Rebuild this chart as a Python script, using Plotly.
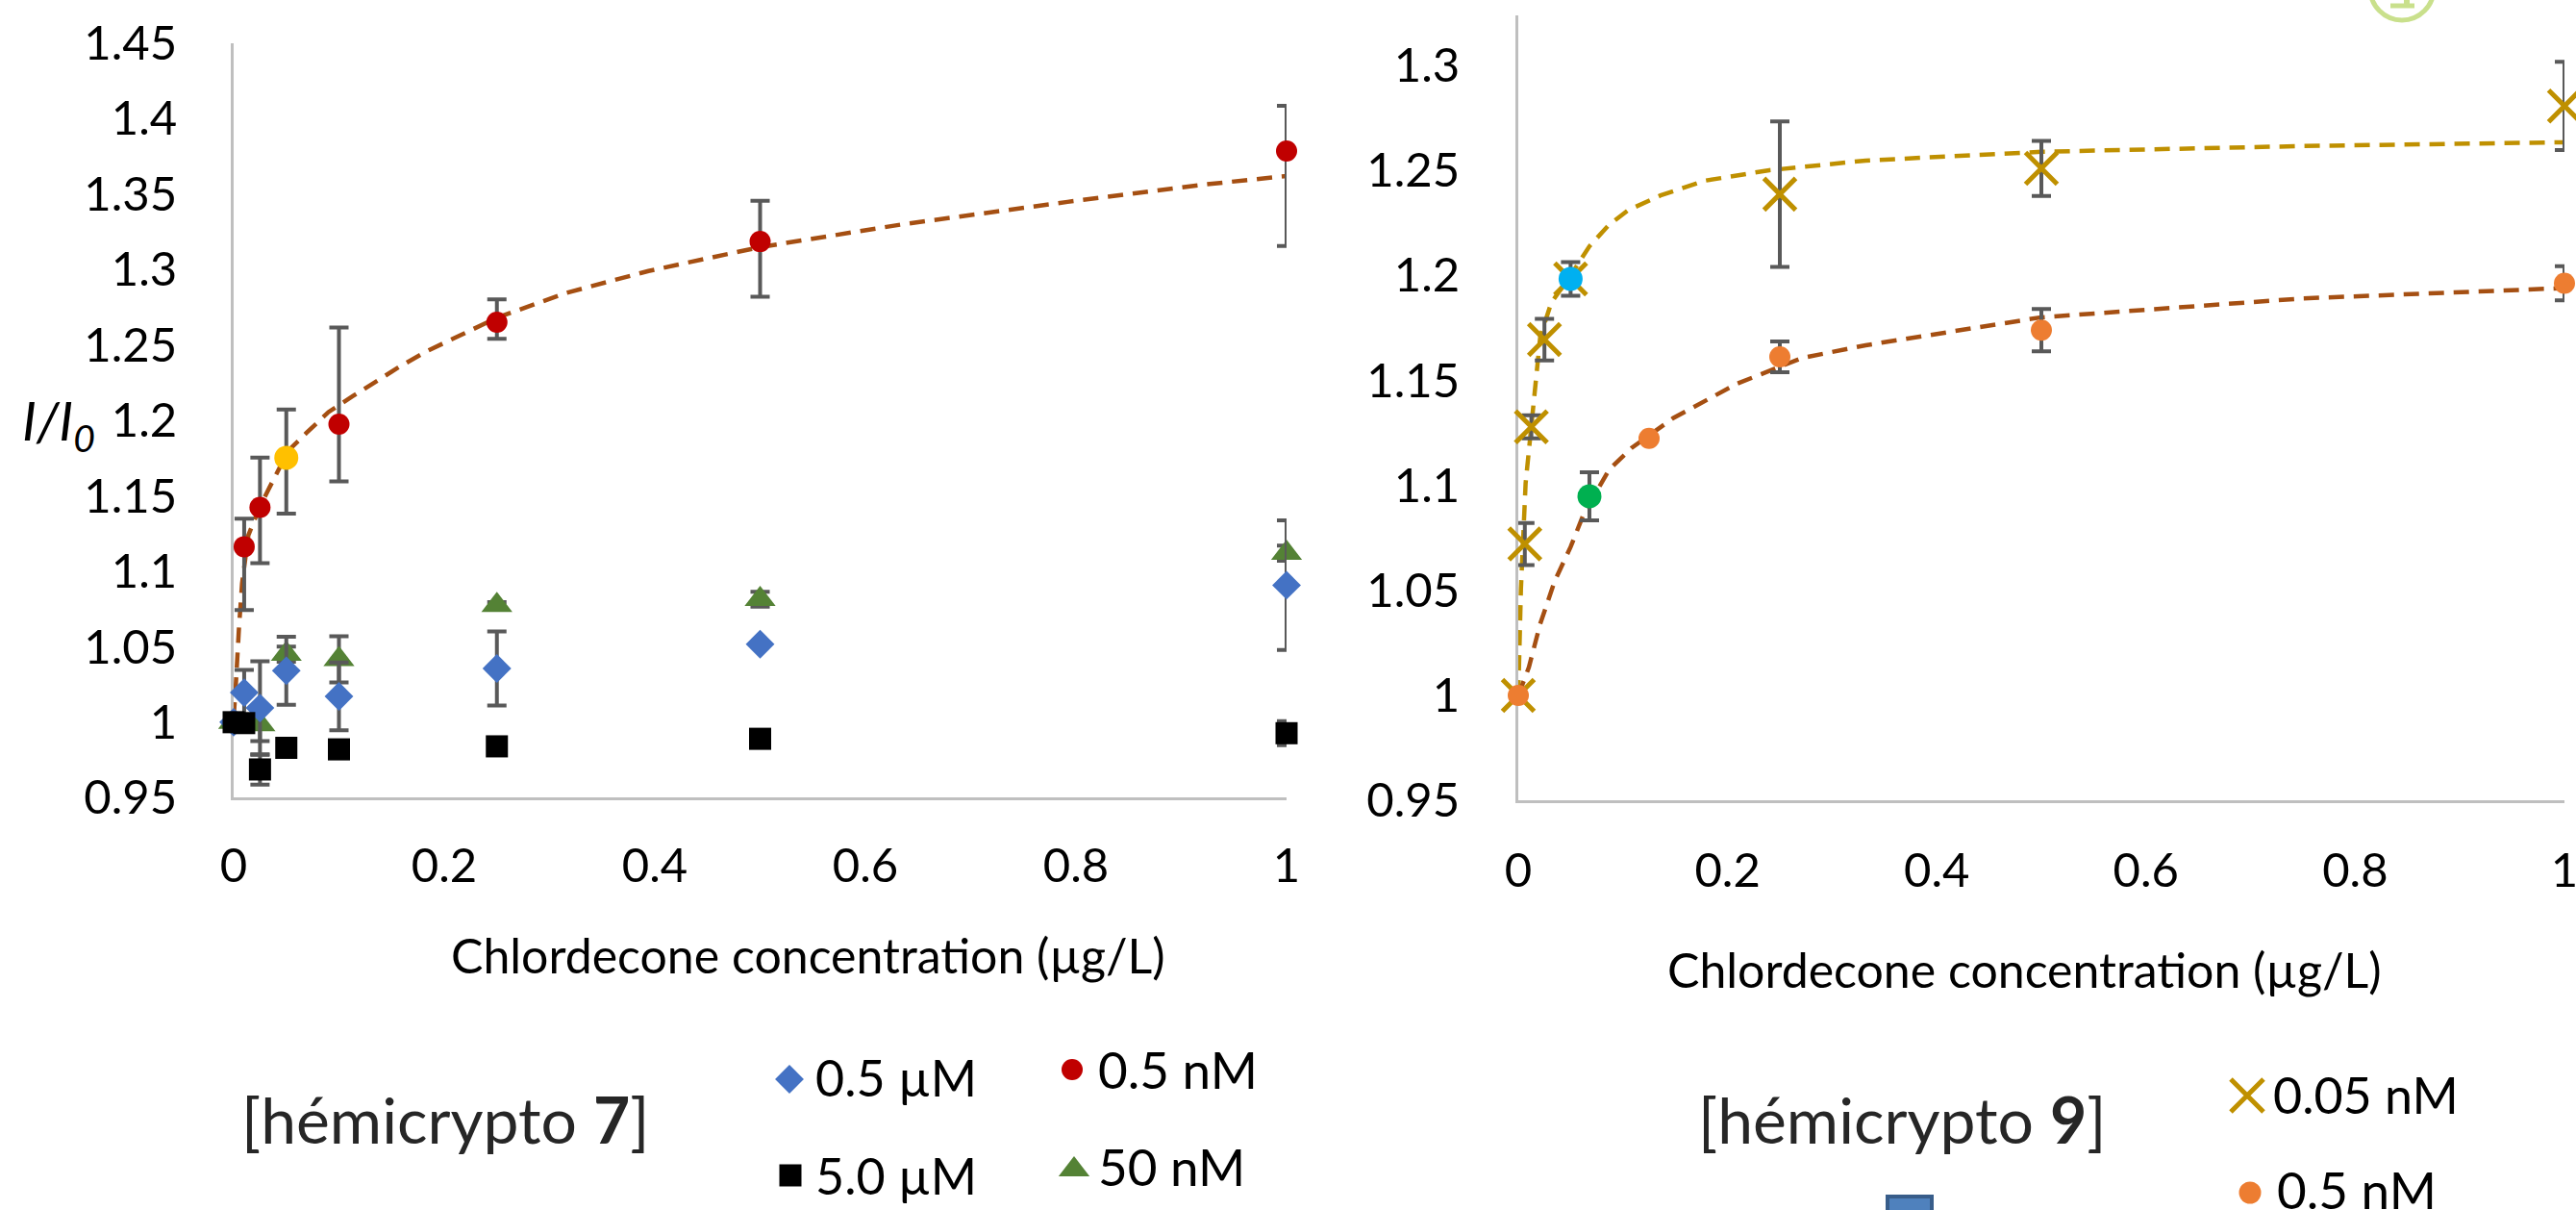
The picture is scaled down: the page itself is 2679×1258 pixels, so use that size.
"""
Chlordecone titration: I/I0 vs concentration for hémicrypto 7 and hémicrypto 9.
"""

import plotly.graph_objects as go

W, H = 2679, 1258

# ---- hémicrypto 7 ----
conc7 = [0, 0.01, 0.025, 0.05, 0.1, 0.25, 0.5, 1]
i7_05uM = [1.0, 1.0196, 1.0094, 1.0341, 1.0171, 1.0356, 1.0517, 1.0908]
err7_05uM = [0, 0.015, 0.031, 0.0225, 0.0224, 0.0245, 0, 0.043]

i7_5uM = [1.0, 0.9994, 0.9687, 0.983, 0.982, 0.984, 0.989, 0.9927]
err7_5uM = [0, 0, 0.01, 0, 0, 0, 0, 0.008]

i7_05nM = [1.0, 1.1163, 1.1424, 1.1752, 1.1975, 1.2651, 1.3185, 1.3785]
err7_05nM_plus = [0, 0.0185, 0.033, 0.032, 0.064, 0.015, 0.027, 0.030]
err7_05nM_minus = [0, 0.042, 0.037, 0.037, 0.038, 0.011, 0.0365, 0.063]
highlight7 = 3  # point shown in yellow

conc7_50nM = [0, 0.025, 0.05, 0.1, 0.25, 0.5, 1]
i7_50nM = [1.0, 0.9984, 1.0451, 1.0417, 1.0775, 1.0815, 1.112]
err7_50nM = [0, 0.011, 0.005, 0.0153, 0.002, 0.005, 0.005]

# fitted curve
fit7_x = [0, 0.001, 0.002, 0.005, 0.008, 0.014, 0.025, 0.034, 0.052, 0.069, 0.09,
          0.113, 0.137, 0.159, 0.184, 0.25, 0.316, 0.394, 0.5, 0.636, 0.792, 0.916, 1.0]
fit7_y = [1.003, 1.012, 1.024, 1.062, 1.092, 1.124, 1.143, 1.1555, 1.180, 1.1916, 1.2055,
          1.216, 1.2267, 1.2362, 1.246, 1.268, 1.2845, 1.299, 1.3148, 1.330, 1.3448, 1.3558, 1.362]

# ---- hémicrypto 9 ----
conc9_005nM = [0, 0.00625, 0.0125, 0.025, 0.05, 0.25, 0.5, 1]
i9_005nM = [1.0, 1.0721, 1.1279, 1.1694, 1.1983, 1.2386, 1.2509, 1.2806]
err9_005nM = [0, 0.010, 0.0055, 0.0099, 0.008, 0.0346, 0.0131, 0.021]
highlight9_005 = 4  # cyan

conc9_05nM = [0, 0.068, 0.125, 0.25, 0.5, 1]
i9_05nM = [1.0, 1.0948, 1.1224, 1.1612, 1.1739, 1.1962]
err9_05nM = [0, 0.0115, 0, 0.0073, 0.0101, 0.0081]
highlight9_05 = 1  # green

fit9_005_x = [0, 0.001, 0.0025, 0.007, 0.0147, 0.021, 0.0316, 0.05, 0.068, 0.0867,
              0.105, 0.136, 0.178, 0.24, 0.332, 0.5, 0.75, 1.0]
fit9_005_y = [1.0, 1.03, 1.0505, 1.101, 1.142, 1.1708, 1.187, 1.2, 1.2138, 1.224,
              1.231, 1.238, 1.245, 1.250, 1.2546, 1.2588, 1.2615, 1.2633]
fit9_05_x = [0, 0.0101, 0.0209, 0.0347, 0.05, 0.0622, 0.0867, 0.108, 0.148, 0.209,
             0.271, 0.332, 0.5, 0.75, 1.0]
fit9_05_y = [1.0, 1.0134, 1.034, 1.0543, 1.0707, 1.086, 1.1074, 1.1177, 1.132, 1.1484,
             1.1606, 1.1667, 1.18, 1.189, 1.1939]

# ---- axis ticks ----
x_ticks = [0, 0.2, 0.4, 0.6, 0.8, 1]
x_labels = ['0', '0.2', '0.4', '0.6', '0.8', '1']
y7_ticks = [0.95, 1.0, 1.05, 1.1, 1.15, 1.2, 1.25, 1.3, 1.35, 1.4, 1.45]
y7_labels = ['0.95', '1', '1.05', '1.1', '1.15', '1.2', '1.25', '1.3', '1.35', '1.4', '1.45']
y9_ticks = [0.95, 1.0, 1.05, 1.1, 1.15, 1.2, 1.25, 1.3]
y9_labels = ['0.95', '1', '1.05', '1.1', '1.15', '1.2', '1.25', '1.3']

FONT = 'Lato'
ERR_COLOR = '#595959'
BROWN = '#A54F12'
GOLD = '#BF9000'
DASH = '16px,10px'


def px_x(p):
    return p / W


def px_y(p):
    return 1 - p / H


def err(values, minus=None):
    d = dict(type='data', array=values, color=ERR_COLOR, thickness=4, width=10)
    if minus is not None:
        d['symmetric'] = False
        d['arrayminus'] = minus
    return d


def markers(symbol, color, size):
    return dict(symbol=symbol, color=color, size=size, line=dict(width=0))


fig = go.Figure()

# left panel
fig.add_trace(go.Scatter(x=fit7_x, y=fit7_y, mode='lines', xaxis='x', yaxis='y',
                         line=dict(color=BROWN, width=4.5, dash=DASH)))
fig.add_trace(go.Scatter(x=conc7_50nM, y=i7_50nM, mode='markers', xaxis='x', yaxis='y',
                         marker=markers('triangle-up', '#548235', 28),
                         error_y=err(err7_50nM), cliponaxis=False))
fig.add_trace(go.Scatter(x=conc7, y=i7_05uM, mode='markers', xaxis='x', yaxis='y',
                         marker=markers('diamond', '#4472C4', 23),
                         error_y=err(err7_05uM), cliponaxis=False))
fig.add_trace(go.Scatter(x=conc7, y=i7_05nM, mode='markers', xaxis='x', yaxis='y',
                         marker=markers('circle', '#C00000', 22),
                         error_y=err(err7_05nM_plus, err7_05nM_minus), cliponaxis=False))
fig.add_trace(go.Scatter(x=[conc7[highlight7]], y=[i7_05nM[highlight7]], mode='markers',
                         xaxis='x', yaxis='y', marker=markers('circle', '#FFC000', 25),
                         cliponaxis=False))
fig.add_trace(go.Scatter(x=conc7, y=i7_5uM, mode='markers', xaxis='x', yaxis='y',
                         marker=markers('square', '#000000', 23),
                         error_y=err(err7_5uM), cliponaxis=False))

# right panel
fig.add_trace(go.Scatter(x=fit9_005_x, y=fit9_005_y, mode='lines', xaxis='x2', yaxis='y2',
                         line=dict(color=GOLD, width=4.5, dash=DASH)))
fig.add_trace(go.Scatter(x=fit9_05_x, y=fit9_05_y, mode='lines', xaxis='x2', yaxis='y2',
                         line=dict(color=BROWN, width=4.5, dash=DASH)))
fig.add_trace(go.Scatter(x=conc9_005nM, y=i9_005nM, mode='markers', xaxis='x2', yaxis='y2',
                         marker=dict(symbol='x-thin', size=33, color=GOLD,
                                     line=dict(color=GOLD, width=5)),
                         error_y=err(err9_005nM), cliponaxis=False))
fig.add_trace(go.Scatter(x=conc9_05nM, y=i9_05nM, mode='markers', xaxis='x2', yaxis='y2',
                         marker=markers('circle', '#ED7D31', 22),
                         error_y=err(err9_05nM), cliponaxis=False))
fig.add_trace(go.Scatter(x=[conc9_005nM[highlight9_005]], y=[i9_005nM[highlight9_005]],
                         mode='markers', xaxis='x2', yaxis='y2',
                         marker=markers('circle', '#00B0F0', 25), cliponaxis=False))
fig.add_trace(go.Scatter(x=[conc9_05nM[highlight9_05]], y=[i9_05nM[highlight9_05]],
                         mode='markers', xaxis='x2', yaxis='y2',
                         marker=markers('circle', '#00B050', 25), cliponaxis=False))

# legend glyphs, placed in pixel space on an invisible overlay axis
legend_glyphs = [
    # (x px, y px, symbol, color, size)
    (821, 1122, 'diamond', '#4472C4', 23),
    (1115, 1112, 'circle', '#C00000', 22),
    (822, 1222, 'square', '#000000', 23),
    (1117, 1216, 'triangle-up', '#548235', 28),
    (2340, 1240, 'circle', '#ED7D31', 23),
]
for gx, gy, sym, col, sz in legend_glyphs:
    fig.add_trace(go.Scatter(x=[gx], y=[gy], mode='markers', xaxis='x3', yaxis='y3',
                             marker=markers(sym, col, sz), cliponaxis=False))
fig.add_trace(go.Scatter(x=[2337], y=[1139], mode='markers', xaxis='x3', yaxis='y3',
                         marker=dict(symbol='x-thin', size=34, color=GOLD,
                                     line=dict(color=GOLD, width=5)),
                         cliponaxis=False))

axis_common = dict(showline=True, linecolor='#BFBFBF', linewidth=3, showgrid=False,
                   zeroline=False, ticks='', layer='below traces', automargin=False,
                   ticklabeloverflow='allow',
                   tickfont=dict(family=FONT, size=49, color='#000000'))

fig.update_layout(
    width=W, height=H,
    margin=dict(l=0, r=0, t=0, b=0, pad=0),
    paper_bgcolor='white',
    plot_bgcolor='rgba(0,0,0,0)',
    showlegend=False,
    xaxis=dict(domain=[px_x(243), px_x(1338)], range=[0, 1], anchor='y',
               tickvals=x_ticks, ticktext=x_labels, ticklabelstandoff=26, **axis_common),
    yaxis=dict(domain=[px_y(829.3), px_y(44.8)], range=[0.95, 1.45], anchor='x',
               tickvals=y7_ticks, ticktext=y7_labels, ticklabelstandoff=46, **axis_common),
    xaxis2=dict(domain=[px_x(1579), px_x(2667)], range=[0, 1], anchor='y2',
                tickvals=x_ticks, ticktext=x_labels, ticklabelstandoff=28, **axis_common),
    yaxis2=dict(domain=[px_y(832.3), px_y(16)], range=[0.95, 1.3237], anchor='x2',
                tickvals=y9_ticks, ticktext=y9_labels, ticklabelstandoff=48, **axis_common),
    xaxis3=dict(domain=[0, 1], range=[0, W], anchor='y3', visible=False, automargin=False),
    yaxis3=dict(domain=[0, 1], range=[H, 0], anchor='x3', visible=False, automargin=False),
)

texts = [
    # (text, x px, y px, xanchor, size)
    ('Chlordecone concentration (µg/L)', 840, 993, 'center', 50),
    ('Chlordecone concentration (µg/L)', 2105, 1008, 'center', 50),
    ('0.5 µM', 846, 1120, 'left', 52),
    ('0.5 nM', 1140, 1111, 'left', 53),
    ('5.0 µM', 846, 1222, 'left', 52),
    ('50 nM', 1140, 1212, 'left', 53),
    ('0.05 nM', 2362, 1138, 'left', 52),
    ('0.5 nM', 2366, 1236, 'left', 53),
    ('<i>I/I<sub>0</sub></i>', 61, 440, 'center', 56),
]
for txt, tx, ty, xa, sz in texts:
    fig.add_annotation(text=txt, x=px_x(tx), y=px_y(ty), xref='paper', yref='paper',
                       xanchor=xa, yanchor='middle', showarrow=False,
                       font=dict(family=FONT, size=sz, color='#000000'))

for txt, tx in [('[hémicrypto <b>7</b>]', 463), ('[hémicrypto <b>9</b>]', 1978)]:
    fig.add_annotation(text=txt, x=px_x(tx), y=px_y(1163), xref='paper', yref='paper',
                       xanchor='center', yanchor='middle', showarrow=False,
                       font=dict(family=FONT, size=66, color='#262626'))

# cut-off decorations at the figure edges
fig.add_shape(type='rect', xref='paper', yref='paper',
              x0=px_x(1963), x1=px_x(2009), y0=px_y(1290), y1=px_y(1244),
              fillcolor='#4F81BD', line=dict(color='#385D8A', width=4))
fig.add_shape(type='circle', xref='paper', yref='paper',
              x0=px_x(2465), x1=px_x(2531), y0=px_y(21), y1=px_y(-45),
              line=dict(color='#C9E08C', width=5))
fig.add_shape(type='line', xref='paper', yref='paper',
              x0=px_x(2486), x1=px_x(2511), y0=px_y(6), y1=px_y(6),
              line=dict(color='#C9E08C', width=5))
fig.add_shape(type='line', xref='paper', yref='paper',
              x0=px_x(2503), x1=px_x(2503), y0=px_y(6), y1=px_y(-5),
              line=dict(color='#C9E08C', width=6))

# drop the default page margin so the figure sits at the window's top-left corner
fig.write_html("out.html", config={'displayModeBar': False},
               post_script="document.body.style.margin='0';")
